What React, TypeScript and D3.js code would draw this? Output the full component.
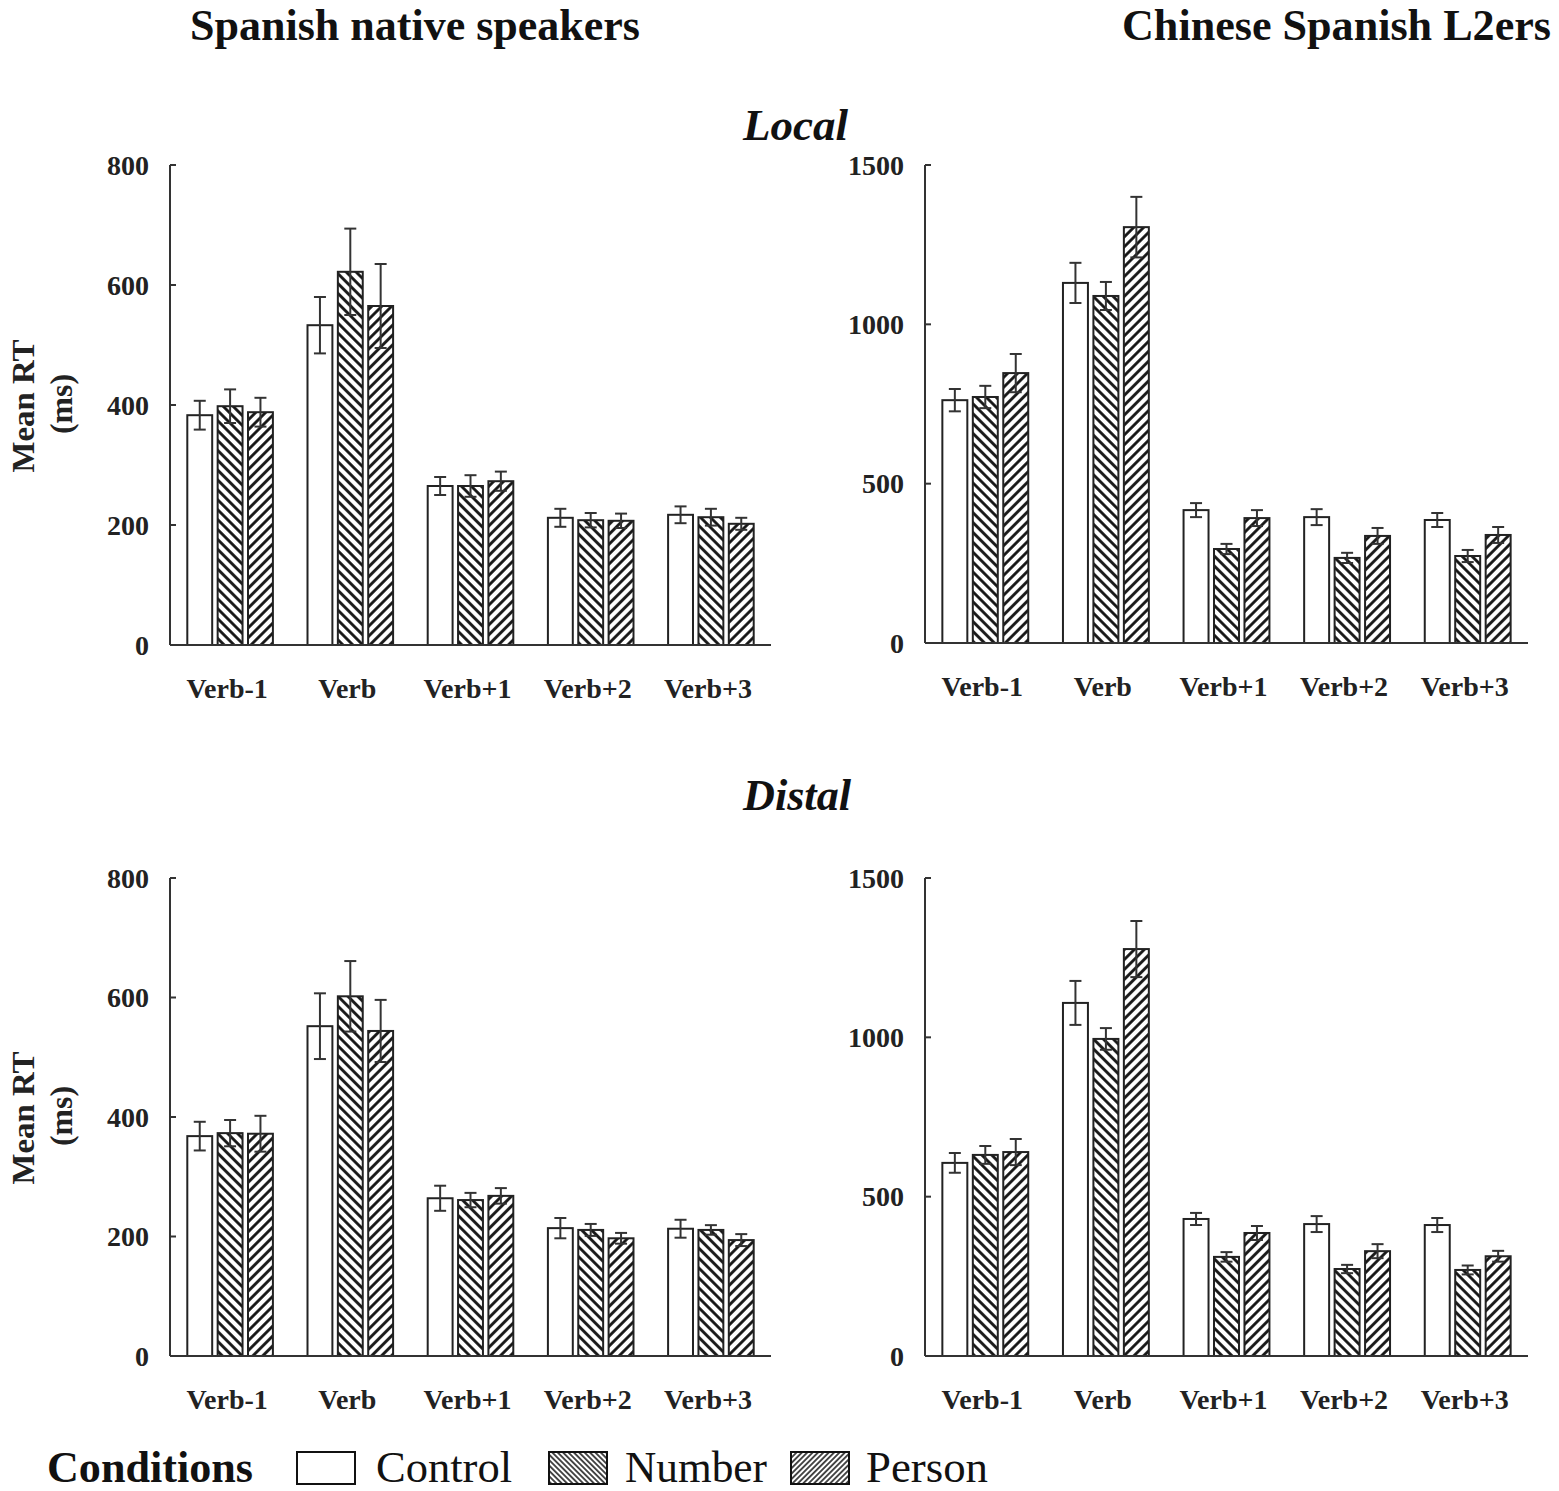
import React from "react";
import * as d3 from "d3";

const categories = ["Verb-1", "Verb", "Verb+1", "Verb+2", "Verb+3"];
const conditions = ["Control", "Number", "Person"];

// [category][condition]
const localSpanishMean = [[383, 398, 388], [533, 622, 565], [265, 265, 273], [212, 208, 207], [217, 213, 202]];
const localSpanishErr = [[24, 28, 24], [47, 72, 70], [15, 18, 16], [15, 12, 12], [14, 14, 10]];
const localChineseMean = [[762, 772, 847], [1130, 1089, 1305], [417, 295, 392], [395, 267, 336], [386, 273, 339]];
const localChineseErr = [[35, 35, 60], [63, 44, 95], [22, 16, 25], [25, 16, 25], [22, 19, 25]];
const distalSpanishMean = [[368, 373, 372], [552, 602, 544], [264, 261, 268], [214, 211, 197], [213, 211, 194]];
const distalSpanishErr = [[24, 22, 30], [55, 59, 52], [21, 12, 13], [17, 10, 9], [15, 8, 10]];
const distalChineseMean = [[606, 631, 640], [1108, 995, 1277], [430, 311, 386], [414, 273, 329], [411, 270, 313]];
const distalChineseErr = [[31, 28, 41], [69, 34, 88], [19, 15, 22], [25, 13, 22], [22, 14, 17]];

const spanishTicks = [0, 200, 400, 600, 800];
const chineseTicks = [0, 500, 1000, 1500];

const W = 1559;
const H = 1491;
const FONT = "'Liberation Serif', 'Times New Roman', serif";

const fills: Record<string, string> = {
  Control: "#fff",
  Number: "url(#hatchNumber)",
  Person: "url(#hatchPerson)",
};
const legendFills: Record<string, string> = {
  Control: "#fff",
  Number: "url(#legNumber)",
  Person: "url(#legPerson)",
};

type PanelProps = {
  left: number;
  right: number;
  top: number;
  bottom: number;
  max: number;
  ticks: number[];
  means: number[][];
  errs: number[][];
};

const Panel: React.FC<PanelProps> = ({ left, right, top, bottom, max, ticks, means, errs }) => {
  const x = d3.scaleBand<string>().domain(categories).range([left, right]);
  const inner = d3
    .scaleBand<string>()
    .domain(conditions)
    .range([0, x.bandwidth()])
    .paddingInner(0.18)
    .paddingOuter(0.57);
  const y = d3.scaleLinear().domain([0, max]).range([bottom, top]);

  return (
    <g>
      {categories.map((cat, ci) =>
        conditions.map((cond, k) => {
          const bx = (x(cat) as number) + (inner(cond) as number);
          const bw = inner.bandwidth();
          const m = means[ci][k];
          const e = errs[ci][k];
          const cx = bx + bw / 2;
          return (
            <g key={cat + cond}>
              <rect
                x={bx}
                y={y(m)}
                width={bw}
                height={y(0) - y(m)}
                fill={fills[cond]}
                stroke="#222"
                strokeWidth={2}
              />
              <g stroke="#333" strokeWidth={2}>
                <line x1={cx} x2={cx} y1={y(m + e)} y2={y(m - e)} />
                <line x1={cx - 6} x2={cx + 6} y1={y(m + e)} y2={y(m + e)} />
                <line x1={cx - 6} x2={cx + 6} y1={y(m - e)} y2={y(m - e)} />
              </g>
            </g>
          );
        })
      )}
      {/* axes */}
      <line x1={left} x2={left} y1={y(max)} y2={y(0)} stroke="#333" strokeWidth={2} />
      <line x1={left} x2={right} y1={y(0)} y2={y(0)} stroke="#333" strokeWidth={2} />
      {ticks.map((t) => (
        <g key={t}>
          <line x1={left} x2={left + 6} y1={y(t)} y2={y(t)} stroke="#333" strokeWidth={2} />
          <text
            x={left - 21}
            y={y(t)}
            dy="0.35em"
            textAnchor="end"
            fontSize={28}
            fontWeight="bold"
            fill="#222"
          >
            {t}
          </text>
        </g>
      ))}
      {categories.map((cat) => (
        <text
          key={cat}
          x={(x(cat) as number) + x.bandwidth() / 2 - 3}
          y={y(0) + 53}
          textAnchor="middle"
          fontSize={28}
          fontWeight="bold"
          fill="#222"
        >
          {cat}
        </text>
      ))}
    </g>
  );
};

const YLabel: React.FC<{ cy: number }> = ({ cy }) => (
  <g fontWeight="bold" fill="#222" fontSize={32}>
    <text transform={`translate(34,${cy}) rotate(-90)`} textAnchor="middle" textLength={133} lengthAdjust="spacingAndGlyphs">
      Mean RT
    </text>
    <text transform={`translate(72,${cy - 2}) rotate(-90)`} textAnchor="middle" textLength={60} lengthAdjust="spacingAndGlyphs">
      (ms)
    </text>
  </g>
);

const App: React.FC = () => {
  const legendItems = [
    { cond: "Control", box: 297, text: 376, len: 136 },
    { cond: "Number", box: 549, text: 625, len: 142 },
    { cond: "Person", box: 791, text: 866, len: 122 },
  ];
  return (
    <svg
      width={W}
      height={H}
      viewBox={`0 0 ${W} ${H}`}
      style={{ position: "absolute", left: 0, top: 0, display: "block", fontFamily: FONT, background: "#fff" }}
    >
      <defs>
        <pattern id="hatchNumber" width={7} height={7} patternUnits="userSpaceOnUse" patternTransform="rotate(-45)">
          <rect width={7} height={7} fill="#fff" />
          <line x1={3.5} x2={3.5} y1={0} y2={7} stroke="#111" strokeWidth={2.8} />
        </pattern>
        <pattern id="hatchPerson" width={7} height={7} patternUnits="userSpaceOnUse" patternTransform="rotate(45)">
          <rect width={7} height={7} fill="#fff" />
          <line x1={3.5} x2={3.5} y1={0} y2={7} stroke="#111" strokeWidth={2.8} />
        </pattern>
        <pattern id="legNumber" width={3.8} height={3.8} patternUnits="userSpaceOnUse" patternTransform="rotate(-45)">
          <rect width={3.8} height={3.8} fill="#fff" />
          <line x1={1.9} x2={1.9} y1={0} y2={3.8} stroke="#111" strokeWidth={1.5} />
        </pattern>
        <pattern id="legPerson" width={3.8} height={3.8} patternUnits="userSpaceOnUse" patternTransform="rotate(45)">
          <rect width={3.8} height={3.8} fill="#fff" />
          <line x1={1.9} x2={1.9} y1={0} y2={3.8} stroke="#111" strokeWidth={1.5} />
        </pattern>
      </defs>

      {/* column titles */}
      <text x={190} y={40} fontSize={44} fontWeight="bold" fill="#111" textLength={450} lengthAdjust="spacingAndGlyphs">
        Spanish native speakers
      </text>
      <text x={1122} y={40} fontSize={44} fontWeight="bold" fill="#111" textLength={429} lengthAdjust="spacingAndGlyphs">
        Chinese Spanish L2ers
      </text>

      {/* row titles */}
      <text x={743} y={140} fontSize={44} fontWeight="bold" fontStyle="italic" fill="#111" textLength={105} lengthAdjust="spacingAndGlyphs">
        Local
      </text>
      <text x={743} y={810} fontSize={44} fontWeight="bold" fontStyle="italic" fill="#111" textLength={108} lengthAdjust="spacingAndGlyphs">
        Distal
      </text>

      <YLabel cy={406} />
      <YLabel cy={1118} />

      <Panel left={170} right={771} top={165} bottom={645} max={800} ticks={spanishTicks} means={localSpanishMean} errs={localSpanishErr} />
      <Panel left={925} right={1528} top={165} bottom={643} max={1500} ticks={chineseTicks} means={localChineseMean} errs={localChineseErr} />
      <Panel left={170} right={771} top={878} bottom={1356} max={800} ticks={spanishTicks} means={distalSpanishMean} errs={distalSpanishErr} />
      <Panel left={925} right={1528} top={878} bottom={1356} max={1500} ticks={chineseTicks} means={distalChineseMean} errs={distalChineseErr} />

      {/* legend */}
      <text x={47} y={1482} fontSize={44} fontWeight="bold" fill="#111" textLength={206} lengthAdjust="spacingAndGlyphs">
        Conditions
      </text>
      {legendItems.map((it) => (
        <g key={it.cond}>
          <rect x={it.box} y={1452} width={58} height={32} fill={legendFills[it.cond]} stroke="#111" strokeWidth={2} />
          <text x={it.text} y={1482} fontSize={44} fill="#111" textLength={it.len} lengthAdjust="spacingAndGlyphs">
            {it.cond}
          </text>
        </g>
      ))}
    </svg>
  );
};

export default App;
